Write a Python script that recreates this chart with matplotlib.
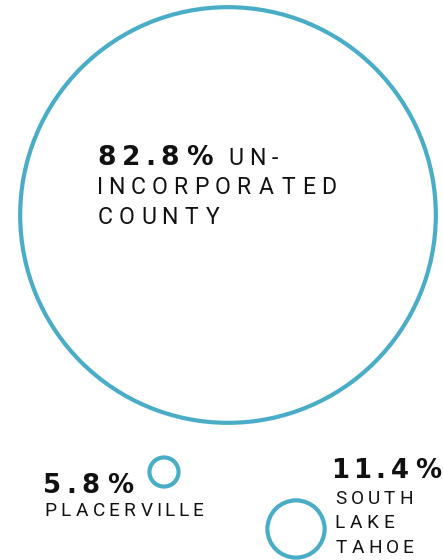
import matplotlib
matplotlib.use("Agg")
import matplotlib.pyplot as plt
from matplotlib.patches import Circle
from matplotlib.textpath import TextPath
from matplotlib.font_manager import FontProperties

# share of county residents by area
shares = [82.8, 5.8, 11.4]
pct_labels = ["82.8%", "5.8%", "11.4%"]
names = [["UN-", "INCORPORATED", "COUNTY"],
         ["PLACERVILLE"],
         ["SOUTH", "LAKE", "TAHOE"]]

TEAL = "#4aadc8"
DPI = 100
PX_PER_PCT = 2.51          # circle radius (px) per percentage point

centers = [(228, 215), (164, 472), (296, 529)]

NUM_FONT = FontProperties(family="DejaVu Sans", weight="bold")
LBL_FONT = FontProperties(family="Roboto", weight="normal")

fig = plt.figure(figsize=(4.43, 5.6), dpi=DPI)
ax = fig.add_axes([0, 0, 1, 1])
ax.set_xlim(0, 443)
ax.set_ylim(560, 0)
ax.set_aspect("equal")
ax.axis("off")

for (cx, cy), v in zip(centers, shares):
    ax.add_patch(Circle((cx, cy), v * PX_PER_PCT, facecolor="white",
                        edgecolor=TEAL, linewidth=3.0))


def ink(ch, size_px, fp):
    return TextPath((0, 0), ch, size=size_px, prop=fp).get_extents()


def gap_for(s, size_px, fp, width):
    # gap between glyphs so that s spans the given width
    inks = sum(ink(ch, size_px, fp).width for ch in s)
    return (width - inks) / (len(s) - 1)


def spaced(x, y, s, size_px, gap, fp):
    """draw s letter by letter, ink-to-ink gap in px, baseline at y"""
    for ch in s:
        ext = ink(ch, size_px, fp)
        ax.text(x - ext.x0, y, ch, fontsize=size_px * 72 / DPI,
                fontproperties=fp, color="#111111",
                va="baseline", ha="left")
        x += ext.width + gap
    return x - gap


NUM_BIG, NUM_SMALL = 26.5, 26.0
LBL_BIG, LBL_SMALL = 23.0, 19.0
num_gap = gap_for(pct_labels[0], NUM_BIG, NUM_FONT, 113)
lbl_gap = gap_for(names[0][1], LBL_BIG, LBL_FONT, 236)
sml_gap = gap_for(names[1][0], LBL_SMALL, LBL_FONT, 157)

# big circle label
spaced(99, 165, pct_labels[0], NUM_BIG, num_gap, NUM_FONT)
spaced(230, 165, names[0][0], LBL_BIG, lbl_gap, LBL_FONT)
spaced(99, 194, names[0][1], LBL_BIG, lbl_gap, LBL_FONT)
spaced(99, 224, names[0][2], LBL_BIG, lbl_gap, LBL_FONT)

# Placerville
spaced(45, 493, pct_labels[1], NUM_SMALL, num_gap, NUM_FONT)
spaced(46, 516, names[1][0], LBL_SMALL, sml_gap, LBL_FONT)

# South Lake Tahoe
spaced(334, 478, pct_labels[2], NUM_SMALL, num_gap * 0.9, NUM_FONT)
for i, line in enumerate(names[2]):
    spaced(336, 504 + 24.5 * i, line, LBL_SMALL, sml_gap, LBL_FONT)

fig.savefig("out.png", dpi=DPI)
